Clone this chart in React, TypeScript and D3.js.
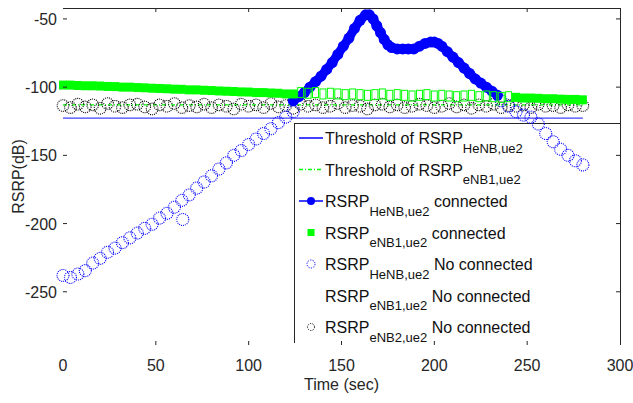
import * as d3 from "d3";

// axis ticks
const xTicks = [0, 50, 100, 150, 200, 250, 300];
const yTicks = [-50, -100, -150, -200, -250];

// thresholds (dB), drawn over 0..280 s
const thrTimes = [0, 280];
const thrHeNB = -122.7;
const thrENB1 = -113;

// RSRP eNB2 (no connected), sampled every 4 s from 0 s
const enb2Start = 0;
const enb2NoConn = [
  -113.5, -115, -112.5, -114.5, -113, -115.5, -112, -114, -115, -113,
  -112.5, -114.5, -116, -113, -114, -112, -115, -113.5, -114.5, -112.5,
  -115, -113, -114, -116, -112.5, -114, -113, -115, -112, -114.5,
  -113.5, -115.5, -112.5, -114, -113, -115, -114, -112, -115, -113.5,
  -114, -116, -113, -112.5, -114.5, -113, -115, -114, -112.5, -113.5,
  -115, -114, -112, -114.5, -113, -115.5, -113, -114, -112.5, -115,
  -113.5, -114, -113, -115, -112.5, -114, -113.5, -115, -113, -114,
  -113.5,
];

// RSRP HeNB (no connected), before and after the connected period, every 4 s
const henbNoConnAStart = 0;
const henbNoConnA = [
  -238, -239.5, -237, -234.5, -229, -225.5, -221, -218, -214, -210.5,
  -207, -203.5, -200.5, -196, -192.5, -188, -183, -179, -174, -169.5,
  -165, -160, -155.5, -150, -146.5, -142, -138, -134, -130.5, -126,
  -122, -118,
];
const henbOutlier: [number, number] = [64.5, -197];
const henbNoConnBStart = 236;
const henbNoConnB = [-110, -114, -118, -120.5, -122, -127, -134, -140, -145.5, -150, -154, -157];

// RSRP HeNB connected: [time, dB]
const henbConn: [number, number][] = [
  [124, -110], [127, -107], [130, -104], [133, -100], [136, -96], [139, -92],
  [142, -87], [145, -82], [148, -76], [151, -70], [154, -64], [157, -57],
  [160, -51], [163, -47], [165, -47], [167, -50], [169, -55], [171, -60],
  [173, -65], [175, -69], [177, -71], [180, -72], [183, -72], [186, -72],
  [189, -72], [192, -70], [195, -68], [198, -67], [200, -67], [202, -68],
  [204, -70], [207, -74], [210, -78], [213, -82], [216, -86], [219, -90],
  [222, -94], [225, -97], [228, -100], [231, -103], [234, -106],
];

// RSRP eNB1 connected, every 4 s
const enb1ConnAStart = 0;
const enb1ConnA = [
  -98.5, -98.5, -98.8, -99, -99, -99.2, -99.5, -99.6, -100, -100,
  -100.3, -100.5, -100.8, -101, -101.2, -101.5, -101.6, -102, -102, -102.3,
  -102.5, -102.8, -103, -103.2, -103.5, -103.6, -104, -104, -104.3, -104.5,
  -105, -105,
];
const enb1ConnBStart = 244;
const enb1ConnB = [-107.5, -108, -108, -108.2, -108.5, -108.5, -108.8, -109, -109, -109.3];

// RSRP eNB1 no connected, every 4 s
const enb1NoConnStart = 128;
const enb1NoConn = [
  -104, -104.5, -104, -105, -104.5, -105, -105.5, -105, -105.5, -106,
  -105.5, -105, -106, -105.5, -106, -106.5, -106, -105.5, -106.5, -106,
  -106.5, -107, -106.5, -106, -107, -106.5, -107, -107.5, -107,
];

const step = 4;
const withTimes = (start: number, vals: number[]): [number, number][] =>
  vals.map((v, i) => [start + i * step, v]);

const BLUE = "#0000ff";
const GREEN = "#00ff00";
const INK = "#262626";
const FONT = "'Liberation Sans', Arial, sans-serif";

export default function App() {
  const width = 633;
  const height = 403;
  const x = d3.scaleLinear().domain([0, 300]).range([63, 620]);
  const y = d3.scaleLinear().domain([-289, -42]).range([345, 8]);
  const [x0, x1] = x.range();
  const [yb, yt] = y.range();

  const line = d3
    .line<[number, number]>()
    .x((d) => x(d[0]))
    .y((d) => y(d[1]));

  const blackPts = withTimes(enb2Start, enb2NoConn);
  const blueNoPts = [
    ...withTimes(henbNoConnAStart, henbNoConnA),
    henbOutlier,
    ...withTimes(henbNoConnBStart, henbNoConnB),
  ];
  const greenPts = [...withTimes(enb1ConnAStart, enb1ConnA), ...withTimes(enb1ConnBStart, enb1ConnB)];
  const greenHollow = withTimes(enb1NoConnStart, enb1NoConn);

  const legendRows = [
    { label: "Threshold of RSRP", sub: "HeNB,ue2", tail: "", kind: "thrBlue" },
    { label: "Threshold of RSRP", sub: "eNB1,ue2", tail: "", kind: "thrGreen" },
    { label: "RSRP", sub: "HeNB,ue2", tail: "connected", kind: "blueConn" },
    { label: "RSRP", sub: "eNB1,ue2", tail: "connected", kind: "greenConn" },
    { label: "RSRP", sub: "HeNB,ue2", tail: "No connected", kind: "blueNo" },
    { label: "RSRP", sub: "eNB1,ue2", tail: "No connected", kind: "none" },
    { label: "RSRP", sub: "eNB2,ue2", tail: "No connected", kind: "blackNo" },
  ];
  const legX = 294;
  const legTop = 123;
  const rowY = (i: number) => 144 + i * 31.5;

  return (
    <svg
      width={width}
      height={height}
      style={{ position: "absolute", left: 0, top: 0, background: "#fff" }}
      fontFamily={FONT}
    >
      {/* legend frame (transparent, data is drawn above it) */}
      <g stroke={INK} strokeWidth={1}>
        <line x1={legX} x2={x1} y1={legTop + 0.5} y2={legTop + 0.5} />
        <line x1={legX + 0.5} x2={legX + 0.5} y1={legTop} y2={yb - 2} />
      </g>

      {/* thresholds */}
      <path
        d={line(thrTimes.map((t) => [t, thrENB1]) as [number, number][]) ?? ""}
        stroke={GREEN}
        strokeWidth={1.2}
        strokeDasharray="4 2 1 2"
        fill="none"
      />
      <path
        d={line(thrTimes.map((t) => [t, thrHeNB]) as [number, number][]) ?? ""}
        stroke={BLUE}
        strokeWidth={1.2}
        fill="none"
        opacity={0.75}
      />

      {/* eNB2 no connected */}
      <g fill="none" stroke="#000" strokeWidth={1.1} strokeDasharray="1 1">
        {blackPts.map((d, i) => (
          <circle key={i} cx={x(d[0])} cy={y(d[1])} r={5.8} />
        ))}
      </g>

      {/* HeNB no connected */}
      <g fill="none" stroke={BLUE} strokeWidth={1.1} strokeDasharray="1 1">
        {blueNoPts.map((d, i) => (
          <circle key={i} cx={x(d[0])} cy={y(d[1])} r={6} />
        ))}
      </g>

      {/* HeNB connected */}
      <path d={line(henbConn) ?? ""} stroke={BLUE} strokeWidth={9} fill="none" strokeLinejoin="round" />
      <g fill={BLUE}>
        {henbConn.map((d, i) => (
          <circle key={i} cx={x(d[0])} cy={y(d[1])} r={5.5} />
        ))}
      </g>

      {/* eNB1 */}
      <g fill={GREEN}>
        {greenPts.map((d, i) => (
          <rect key={i} x={x(d[0]) - 4} y={y(d[1]) - 4.5} width={8} height={9} />
        ))}
      </g>
      <g fill="none" stroke={GREEN} strokeWidth={1}>
        {greenHollow.map((d, i) => (
          <rect key={i} x={x(d[0]) - 3} y={y(d[1]) - 5} width={6} height={10} />
        ))}
      </g>

      {/* axes frame (top and right) and ticks */}
      <g stroke={INK} strokeWidth={1} fill="none">
        <line x1={x0} x2={x1} y1={yt + 0.5} y2={yt + 0.5} />
        <line x1={x1 + 0.5} x2={x1 + 0.5} y1={yt} y2={yb} />
        {xTicks.slice(1, -1).map((t) => (
          <g key={t}>
            <line x1={x(t)} x2={x(t)} y1={yt} y2={yt + 4} />
            <line x1={x(t)} x2={x(t)} y1={yb} y2={yb - 4} />
          </g>
        ))}
        {yTicks.map((t) => (
          <g key={t}>
            <line x1={x0} x2={x0 + 4} y1={y(t)} y2={y(t)} />
            <line x1={x1} x2={x1 - 4} y1={y(t)} y2={y(t)} />
          </g>
        ))}
      </g>

      {/* tick labels */}
      <g fill={INK} fontSize={16}>
        {xTicks.map((t) => (
          <text key={t} x={x(t)} y={371} textAnchor="middle">
            {t}
          </text>
        ))}
        {yTicks.map((t) => (
          <text key={t} x={57} y={y(t) + 6} textAnchor="end">
            {t}
          </text>
        ))}
        <text x={(x0 + x1) / 2} y={390} textAnchor="middle">
          Time (sec)
        </text>
        <text transform={`translate(24,${(yt + yb) / 2}) rotate(-90)`} textAnchor="middle">
          RSRP(dB)
        </text>
      </g>

      {/* legend entries */}
      {legendRows.map((r, i) => {
        const cy = rowY(i) - 6;
        const mx = 311;
        return (
          <g key={i}>
            {r.kind === "thrBlue" && <line x1={299} x2={323} y1={cy} y2={cy} stroke={BLUE} strokeWidth={1.5} />}
            {r.kind === "thrGreen" && (
              <line x1={299} x2={323} y1={cy} y2={cy} stroke={GREEN} strokeWidth={1.5} strokeDasharray="4 2 1 2" />
            )}
            {r.kind === "blueConn" && (
              <g>
                <line x1={299} x2={323} y1={cy} y2={cy} stroke={BLUE} strokeWidth={1.5} />
                <circle cx={mx} cy={cy} r={4} fill={BLUE} />
              </g>
            )}
            {r.kind === "greenConn" && <rect x={mx - 3.5} y={cy - 3.5} width={7} height={7} fill={GREEN} />}
            {r.kind === "blueNo" && (
              <circle cx={mx} cy={cy} r={4} fill="none" stroke={BLUE} strokeDasharray="1.2 1.3" />
            )}
            {r.kind === "blackNo" && (
              <circle cx={mx} cy={cy} r={3.5} fill="none" stroke="#000" strokeDasharray="1.2 1.3" />
            )}
            <text x={325} y={rowY(i)} fontSize={16} fill="#111">
              {r.label}
              <tspan dy={8.5} fontSize={13}>
                {r.sub}
              </tspan>
              {r.tail && (
                <tspan dy={-8.5} fontSize={16}>
                  {" " + r.tail}
                </tspan>
              )}
            </text>
          </g>
        );
      })}
    </svg>
  );
}
